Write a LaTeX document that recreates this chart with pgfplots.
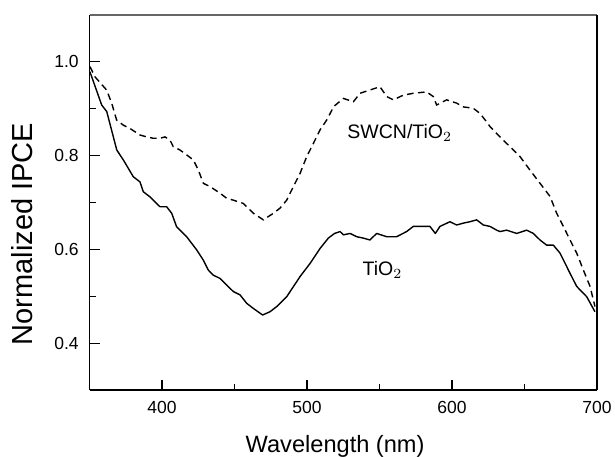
\documentclass[border=0pt]{standalone}
\usepackage{fontspec}
\setmainfont{Liberation Sans}
\usepackage{pgfplots}
\pgfplotsset{compat=1.18}
\begin{document}
\begin{tikzpicture}
\useasboundingbox (-44.75pt,-33pt) rectangle (262.75pt,195pt);
\begin{axis}[
  scale only axis,
  width=253.75pt, height=187.5pt,
  xmin=350, xmax=700, ymin=0.3, ymax=1.1,
  xtick={400,500,600,700}, ytick={0.4,0.6,0.8,1.0},
  minor xtick={450,550,650}, minor ytick={0.5,0.7,0.9},
  xtick pos=left, ytick pos=left,
  tick align=inside,
  major tick length=5pt, minor tick length=3pt,
  tick style={black, line width=0.6pt},
  axis line style={draw=none},
  /pgf/number format/assume math mode=true,
  /pgf/number format/.cd, fixed, fixed zerofill, precision=1, /pgfplots/.cd,
  xticklabel={\pgfmathprintnumber[fixed,precision=0]{\tick}},
  tick label style={font=\fontsize{8.75}{10}\selectfont},
  xticklabel style={inner sep=0pt, anchor=north, yshift=-5.3pt},
  yticklabel style={inner sep=0pt, anchor=east, xshift=-5.25pt},
  xlabel={Wavelength (nm)},
  ylabel={Normalized IPCE},
  every axis x label/.style={at={(axis description cs:0.484,-0.1493)}, anchor=center, font=\fontsize{11.8}{13}\selectfont},
  every axis y label/.style={at={(axis description cs:-0.133,0.416)}, rotate=90, anchor=center, font=\fontsize{14.5}{16}\selectfont},
  clip=false,
]
\draw[black, line width=0.75pt] (rel axis cs:0,0) -- (rel axis cs:0,1);
\draw[black, line width=0.6pt] (rel axis cs:0,0) -- (rel axis cs:1,0);
\draw[black!60, line width=0.75pt] (rel axis cs:0,1) -- (rel axis cs:1,1);
\draw[black, line width=1.4pt] (rel axis cs:1,0) -- (rel axis cs:1,1);
% TiO2 (solid)
\addplot[black, line width=0.7pt, line join=round] coordinates {
(350.3,0.979) (358.4,0.908) (361.9,0.894) (368.8,0.812) (373.3,0.791)
(380.2,0.755) (384.8,0.744) (387.1,0.723) (391.7,0.712) (398.6,0.691)
(403.2,0.691) (406.7,0.677) (410.1,0.648) (417.0,0.627) (423.9,0.599)
(428.5,0.577) (431.9,0.556) (435.4,0.545) (440.0,0.538) (444.6,0.524)
(449.2,0.510) (453.8,0.503) (458.4,0.485) (463.0,0.474) (469.4,0.460)
(474.5,0.467) (479.1,0.478) (486.0,0.499) (495.2,0.542) (502.1,0.570)
(509.0,0.602) (514.7,0.624) (519.0,0.634) (522.8,0.638)
(525.1,0.631) (529.7,0.634) (534.3,0.627) (538.9,0.624) (543.4,0.620)
(548.0,0.634) (555.0,0.627) (561.8,0.627) (568.7,0.638) (573.3,0.649)
(580.2,0.649) (584.8,0.649) (588.5,0.634) (591.7,0.649) (598.6,0.659)
(603.2,0.652) (607.8,0.656) (612.4,0.659) (617.0,0.663) (621.6,0.652)
(626.2,0.649) (630.8,0.641) (633.1,0.638) (637.7,0.641) (644.6,0.634)
(651.5,0.641) (656.1,0.634) (660.7,0.620) (665.3,0.609) (669.9,0.609)
(674.5,0.592) (681.4,0.549) (686.0,0.521) (692.9,0.499) (698.6,0.467)
};
% SWCN/TiO2 (dashed)
\addplot[black, line width=0.7pt, dash pattern=on 3.3pt off 2.2pt] coordinates {
(350.3,0.990) (353.8,0.968) (361.8,0.940) (365.3,0.912) (368.7,0.876)
(373.3,0.865) (377.9,0.858) (384.8,0.844) (389.4,0.840) (394.0,0.837)
(398.6,0.837) (402.1,0.840) (405.5,0.833) (407.8,0.819) (412.4,0.812)
(421.6,0.791) (425.1,0.769) (428.5,0.741) (433.1,0.734) (440.0,0.720)
(444.6,0.709) (449.2,0.705) (456.1,0.698) (463.0,0.677) (469.9,0.663)
(476.8,0.677) (481.4,0.688) (486.0,0.705) (490.6,0.734) (495.2,0.762)
(499.8,0.798) (504.4,0.826) (509.0,0.855) (513.6,0.876) (518.5,0.905)
(525.1,0.922) (532.0,0.915) (536.6,0.933) (543.4,0.940) (550.3,0.947)
(555.0,0.926) (559.5,0.919) (566.4,0.929) (573.3,0.933) (582.5,0.936)
(587.1,0.926) (589.4,0.908) (596.3,0.919) (603.2,0.912) (607.8,0.904)
(614.7,0.901) (619.3,0.890) (623.9,0.872) (626.2,0.862) (633.1,0.840)
(640.0,0.819) (646.9,0.798) (653.8,0.769) (660.7,0.741) (667.6,0.713)
(672.2,0.677) (676.8,0.649) (681.4,0.620) (686.0,0.592) (690.6,0.556)
(695.2,0.521) (698.6,0.478)
};
\node[font=\fontsize{9.75}{11}\selectfont] at (axis cs:564,0.848) {SWCN/TiO$_2$};
\node[font=\fontsize{9.75}{11}\selectfont] at (axis cs:552,0.556) {TiO$_2$};
\end{axis}
\end{tikzpicture}
\end{document}
